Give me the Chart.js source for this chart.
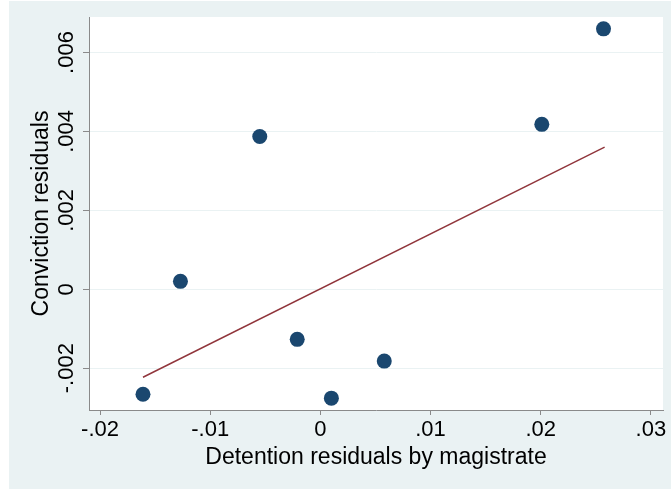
<!DOCTYPE html>
<html>
<head>
<meta charset="utf-8">
<script src="https://cdn.jsdelivr.net/npm/chart.js@4.4.1/dist/chart.umd.min.js"></script>
<style>
  html, body { margin: 0; padding: 0; background: #fff; }
  #wrap { position: relative; width: 671px; height: 489px; }
</style>
</head>
<body>
<div id="wrap"><canvas id="scatterChart" width="671" height="489"></canvas></div>
<script>
	'use strict';

	// residuals per magistrate
	const detentionResid = [-0.0161, -0.0127, -0.0055, -0.0021, 0.0010, 0.0058, 0.0201, 0.0257];
	const convictionResid = [-0.00266, 0.00020, 0.00387, -0.00127, -0.00276, -0.00182, 0.00418, 0.00660];

	// fitted values (end points of the OLS line)
	const fitX = [-0.0161, 0.0258];
	const fitY = [-0.00223, 0.00360];

	const xTicks = [-0.02, -0.01, 0, 0.01, 0.02, 0.03];
	const xTickLabels = ['-.02', '-.01', '0', '.01', '.02', '.03'];
	const yTicks = [-0.002, 0, 0.002, 0.004, 0.006];
	const yTickLabels = ['-.002', '0', '.002', '.004', '.006'];

	const BG = '#eaf2f3';
	const AXIS = '#8a8a8a';
	const FONT = "'Liberation Sans', Arial, Helvetica, sans-serif";

	const backdrop = {
		id: 'backdrop',
		beforeDraw(chart) {
			const ctx = chart.ctx;
			const a = chart.chartArea;
			ctx.save();
			ctx.fillStyle = BG;
			ctx.fillRect(9, 1, chart.width - 9, chart.height - 1);
			ctx.fillStyle = '#ffffff';
			ctx.fillRect(a.left, a.top, a.right - a.left, a.bottom - a.top);
			ctx.restore();
		}
	};

	// y tick labels are upright-rotated like the original
	const yLabels = {
		id: 'yLabels',
		afterDraw(chart) {
			const ctx = chart.ctx;
			const y = chart.scales.y;
			ctx.save();
			ctx.fillStyle = '#000';
			ctx.font = '22px ' + FONT;
			ctx.textAlign = 'center';
			ctx.textBaseline = 'middle';
			yTicks.forEach((v, i) => {
				ctx.save();
				ctx.translate(67, y.getPixelForValue(v));
				ctx.rotate(-Math.PI / 2);
				ctx.fillText(yTickLabels[i], 0, 0);
				ctx.restore();
			});
			ctx.restore();
		}
	};

	new Chart(document.getElementById('scatterChart'), {
		type: 'scatter',
		data: {
			datasets: [{
				type: 'line',
				data: fitX.map((x, i) => ({ x: x, y: fitY[i] })),
				borderColor: '#90353b',
				borderWidth: 1.4,
				pointRadius: 0,
				fill: false,
				order: 2
			}, {
				data: detentionResid.map((x, i) => ({ x: x, y: convictionResid[i] })),
				backgroundColor: '#1a476f',
				borderWidth: 0,
				pointRadius: 7.5,
				order: 1
			}]
		},
		options: {
			responsive: false,
			animation: false,
			devicePixelRatio: 1,
			layout: { padding: { left: 0, top: 17, right: 8, bottom: 0 } },
			plugins: { legend: { display: false }, tooltip: { enabled: false } },
			scales: {
				x: {
					type: 'linear',
					min: -0.021,
					max: 0.0311,
					afterBuildTicks: s => { s.ticks = xTicks.map(v => ({ value: v })); },
					afterFit: s => { s.height = 79; },
					grid: { drawOnChartArea: false, tickLength: 5, tickColor: AXIS },
					border: { display: true, color: AXIS, width: 1 },
					ticks: {
						padding: 2,
						color: '#000',
						font: { family: FONT, size: 22 },
						maxRotation: 0,
						callback: (v) => {
							const i = xTicks.findIndex(t => Math.abs(t - v) < 1e-9);
							return i >= 0 ? xTickLabels[i] : '';
						}
					},
					title: {
						display: true,
						text: 'Detention residuals by magistrate',
						color: '#000',
						font: { family: FONT, size: 23 },
						padding: { top: 0, bottom: 18 }
					}
				},
				y: {
					type: 'linear',
					min: -0.00306,
					max: 0.0069,
					afterBuildTicks: s => { s.ticks = yTicks.map(v => ({ value: v })); },
					afterFit: s => { s.width = 89; },
					grid: { color: BG, lineWidth: 1, tickLength: 6, tickColor: AXIS },
					border: { display: true, color: AXIS, width: 1 },
					ticks: { display: false },
					title: {
						display: true,
						text: 'Conviction residuals',
						color: '#000',
						font: { family: FONT, size: 23 },
						padding: { top: 28, bottom: 0 }
					}
				}
			}
		},
		plugins: [backdrop, yLabels]
	});
</script>
</body>
</html>
